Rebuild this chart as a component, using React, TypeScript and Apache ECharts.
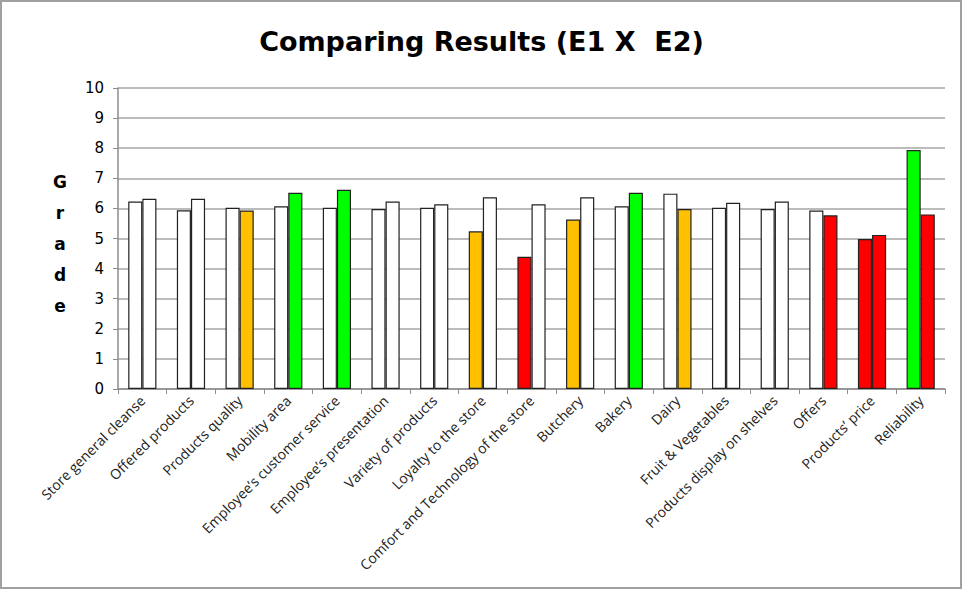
import React, { useEffect, useRef } from "react";
import * as echarts from "echarts";

const categories = [
  "Store general cleanse",
  "Offered products",
  "Products quality",
  "Mobility area",
  "Employee’s customer service",
  "Employee’s presentation",
  "Variety of products",
  "Loyalty to the store",
  "Comfort and Technology of the store",
  "Butchery",
  "Bakery",
  "Dairy",
  "Fruit & Vegetables",
  "Products display on shelves",
  "Offers",
  "Products’ price",
  "Reliability",
];

const e1Values = [6.23, 5.94, 6.02, 6.07, 6.02, 5.98, 6.02, 5.24, 4.39, 5.63, 6.07, 6.49, 6.02, 5.98, 5.93, 4.98, 7.94];
const e2Values = [6.32, 6.32, 5.93, 6.52, 6.62, 6.23, 6.14, 6.37, 6.14, 6.37, 6.52, 5.98, 6.19, 6.23, 5.77, 5.12, 5.8];

// rating classes: n = neutral, o = attention, g = good, r = bad
const e1Rating = ["n", "n", "n", "n", "n", "n", "n", "o", "r", "o", "n", "n", "n", "n", "n", "r", "g"];
const e2Rating = ["n", "n", "o", "g", "g", "n", "n", "n", "n", "n", "g", "o", "n", "n", "r", "r", "r"];

const yTicks = { min: 0, max: 10, interval: 1 };

const palette: Record<string, string> = {
  n: "#FFFFFF",
  o: "#FFC000",
  g: "#00FF00",
  r: "#FF0000",
};

function toData(values: number[], rating: string[]) {
  return values.map((v, i) => ({
    value: v,
    itemStyle: { color: palette[rating[i]] },
  }));
}

export default function App() {
  const ref = useRef<HTMLDivElement>(null);
  useEffect(() => {
    if (!ref.current) return;
    const chart = echarts.init(ref.current, undefined, { renderer: "svg" });
    const barStyle = { borderColor: "#222", borderWidth: 1.2 };
    chart.setOption({
      animation: false,
      backgroundColor: "#FFFFFF",
      title: {
        text: "Comparing Results (E1 X  E2)",
        left: "center",
        top: 23,
        textStyle: {
          fontFamily: "DejaVu Sans",
          fontWeight: "bold",
          fontSize: 27,
          color: "#000",
        },
      },
      grid: { left: 118, right: 18, top: 88, bottom: 201, containLabel: false },
      xAxis: {
        type: "category",
        data: categories,
        axisLine: { lineStyle: { color: "#8C8C8C", width: 1.5 } },
        axisTick: { show: true, length: 5, alignWithLabel: false, lineStyle: { color: "#8C8C8C" } },
        axisLabel: {
          interval: 0,
          rotate: 45,
          margin: 9,
          fontFamily: "Open Sans",
          fontSize: 14,
          color: "#222",
        },
      },
      yAxis: {
        type: "value",
        min: yTicks.min,
        max: yTicks.max,
        interval: yTicks.interval,
        axisLine: { show: true, lineStyle: { color: "#8C8C8C", width: 1.5 } },
        axisTick: { show: true, length: 5, lineStyle: { color: "#8C8C8C" } },
        axisLabel: {
          margin: 14,
          fontFamily: "DejaVu Sans",
          fontSize: 15,
          color: "#000",
        },
        splitLine: { show: true, lineStyle: { color: "#A6A6A6", width: 1.5 } },
      },
      series: [
        {
          name: "E1",
          type: "bar",
          data: toData(e1Values, e1Rating),
          itemStyle: barStyle,
          barGap: "0%",
          barCategoryGap: "42%",
        },
        {
          name: "E2",
          type: "bar",
          data: toData(e2Values, e2Rating),
          itemStyle: barStyle,
          barGap: "0%",
          barCategoryGap: "42%",
        },
      ],
      graphic: [
        {
          type: "rect",
          shape: { x: 1, y: 1, width: 960, height: 587 },
          style: { fill: "none", stroke: "#A0A0A0", lineWidth: 2 },
          silent: true,
        },
        {
          type: "text",
          x: 60,
          y: 167,
          style: {
            text: "G\nr\na\nd\ne",
            font: "bold 17px 'DejaVu Sans'",
            fill: "#000",
            textAlign: "center",
            textVerticalAlign: "top",
            lineHeight: 30.8,
          },
        },
      ],
    });
    return () => chart.dispose();
  }, []);
  return (
    <div
      ref={ref}
      style={{ position: "fixed", left: 0, top: 0, width: 963, height: 590 }}
    />
  );
}
